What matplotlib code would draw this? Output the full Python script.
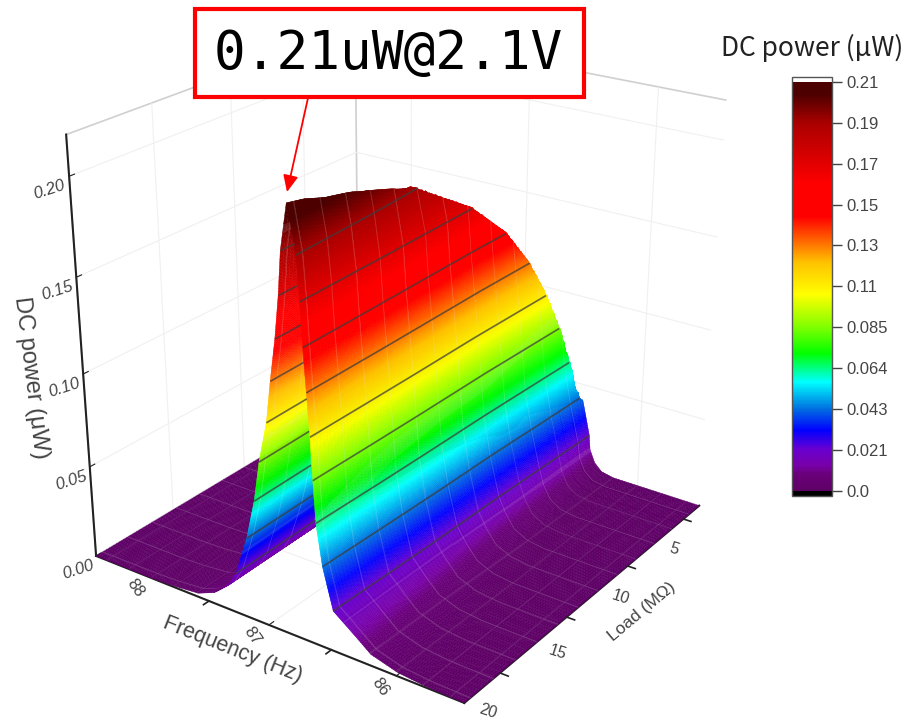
import numpy as np, matplotlib
matplotlib.use('Agg')
import matplotlib.pyplot as plt
from matplotlib.colors import LinearSegmentedColormap, Normalize
from matplotlib.cm import ScalarMappable
from mpl_toolkits.mplot3d import proj3d
import warnings; warnings.filterwarnings('ignore')

# Values: the frequency at which each power level sits, per load
LOAD=[1,1.16,1.5,2.09,2.92,4.04,5.6,8,11.5,15,20]
PEAK_POWER=[.041,.0426,.0639,.0852,.1065,.1278,.1491,.1704,.1917,.203,.215]
PEAK_FREQ=[86.48,86.49,86.552,86.59,86.627,86.665,86.702,86.728,86.784,86.778,86.77]
LEVELS=[.0005,.002,.006,.013,.0213,.0426,.0639,.0852,.1065,.1278,.1491,.1704,.1917]
FREQ_RISING=[
[86.2,86.30,86.36,86.403,86.414,86.48,86.48,86.48,86.48,86.48,86.48,86.48,86.48],
[86.198,86.298,86.359,86.403,86.414,86.49,86.49,86.49,86.49,86.49,86.49,86.49,86.49],
[86.192,86.294,86.357,86.402,86.415,86.491,86.552,86.552,86.552,86.552,86.552,86.552,86.552],
[86.182,86.287,86.354,86.401,86.417,86.493,86.554,86.59,86.59,86.59,86.59,86.59,86.59],
[86.168,86.278,86.349,86.399,86.421,86.497,86.557,86.592,86.627,86.627,86.627,86.627,86.627],
[86.15,86.265,86.343,86.397,86.425,86.501,86.561,86.595,86.629,86.665,86.665,86.665,86.665],
[86.12,86.244,86.333,86.393,86.432,86.509,86.567,86.6,86.632,86.667,86.702,86.702,86.702],
[86.076,86.213,86.318,86.387,86.443,86.52,86.576,86.607,86.637,86.669,86.702,86.728,86.728],
[86.0,86.157,86.285,86.369,86.449,86.526,86.58,86.607,86.633,86.663,86.693,86.716,86.784],
[85.904,86.087,86.245,86.348,86.46,86.537,86.587,86.61,86.632,86.658,86.684,86.704,86.746],
[85.77,85.99,86.193,86.322,86.48,86.558,86.603,86.62,86.635,86.655,86.675,86.69,86.71]]
FREQ_FALLING=[87.82,87.59,87.45,87.33,87.26,87.16,87.088,87.038,86.97,86.93,86.885,86.85,86.825]
FREQ_RANGE=(85.5,88.5);LOAD_RANGE=(1,20);POWER_TOP=.22

CB_TICKS=[0,.0213,.0426,.0639,.0852,.1065,.1278,.1491,.1704,.1917,.213]
CB_LABELS=['0.0','0.021','0.043','0.064','0.085','0.11','0.13','0.15','0.17','0.19','0.21']
CONTOUR_LEVELS=CB_TICKS[1:-1]
FREQ_TICKS=[86,87,88];FREQ_MINOR=[86.5,87.5]
LOAD_TICKS=[5,10,15,20];LOAD_MINOR=[2.5,7.5,12.5,17.5]
Z_TICKS=[0,.05,.10,.15,.20]
Z_LABELS=['0.00','0.05','0.10','0.15','0.20']
cstops=[(0,'#5e0066'),(.04,'#6a007a'),(.06,'#7800a8'),(.10,'#6a00d0'),(.147,'#0000ff'),(.20,'#0070e0'),(.265,'#00ffff'),(.335,'#00ff00'),(.40,'#80ff00'),(.48,'#ffff00'),(.56,'#ffc000'),(.67,'#ff0000'),(.75,'#ff0000'),(.90,'#aa0000'),(.97,'#4d0000'),(1,'#4d0000')]
cmap=LinearSegmentedColormap.from_list('dc',cstops,N=512)
cmap.set_under('black');cmap.set_over('white')
norm=Normalize(0,.213)

plt.rcParams['font.family']=['Liberation Sans','DejaVu Sans']
fig=plt.figure(figsize=(9.21,7.2),dpi=100,facecolor='white')
ax=fig.add_subplot(projection='3d',computed_zorder=False)
ax.set_xlim(*FREQ_RANGE,view_margin=0);ax.set_ylim(*LOAD_RANGE,view_margin=0);ax.set_zlim(0,POWER_TOP,view_margin=0)
ax.view_init(24.0344,125.3603);ax.set_proj_type('persp',focal_length=.4957);ax.set_box_aspect((1.0021,.9985,1))
s=759.4918;cx=394.2233;cy=376.8205
ax.set_position([(cx-s/2)/921,(cy-s/2)/720,s/921,s/720])
ax.patch.set_alpha(0)

# The read table is only subdivided here so that the colour bands render smoothly
lev=np.array(LEVELS);fr=np.array(FREQ_RISING);fall=np.array(FREQ_FALLING);pk=np.array(PEAK_POWER);pf=np.array(PEAK_FREQ);lp=np.array(LOAD)
def rising(L,k): return np.interp(L,lp,fr[:,k])
def falling(L,k): return fall[k]+np.interp(L,lp,pf)-pf[-1]
def row(L,f):
    p=np.interp(L,lp,pk);pfq=np.interp(L,lp,pf);m=lev<p-1e-4
    k=np.maximum.accumulate(np.array([rising(L,j) for j in range(len(lev))])[m])
    g=fall[m]+pfq-pf[-1]
    top=max(pfq,k[-1]+1e-3)
    g=np.maximum(g,top+1e-3)
    X=np.r_[FREQ_RANGE[0],k,top,g[::-1],88.0,FREQ_RANGE[1]]
    Y=np.r_[0,lev[m],p,lev[m][::-1],0,0]
    return np.interp(f,X,Y)
dense=np.linspace(*FREQ_RANGE,6001)
w_=sum(np.abs(np.diff(row(l,dense))) for l in (1.5,3,6,10,20))
arc=np.r_[0,np.cumsum(w_/.004+np.diff(dense)/.02)]
ff=np.interp(np.linspace(0,arc[-1],int(arc[-1])),arc,dense)
MESH_F=np.arange(85.6,88.5,.2);MESH_L=np.arange(2,20,1.6)
df=.005;dl=.035
ffx=np.unique(np.r_[ff,MESH_F-df,MESH_F+df])
llx=np.unique(np.r_[np.linspace(1,20,90),lp,MESH_L-dl,MESH_L+dl])
Z=np.array([row(l,ffx) for l in llx])
F,L=np.meshgrid(ffx,llx)
fm=.5*(F[:-1,:-1]+F[1:,1:]);lm=.5*(L[:-1,:-1]+L[1:,1:])
zc=.25*(Z[:-1,:-1]+Z[1:,:-1]+Z[:-1,1:]+Z[1:,1:])
fc=np.zeros(Z.shape+(4,));C=cmap(np.clip(norm(zc),0,1))
isf=np.any(np.abs(fm[...,None]-MESH_F)<df*1.01,axis=-1);isl=np.any(np.abs(lm[...,None]-MESH_L)<dl*1.01,axis=-1)
w=np.array([.9,.9,.9])
C[...,:3][isf]=C[...,:3][isf]*.9+.1*w
C[...,:3][isl]=C[...,:3][isl]*.82+.18*w
fc[:-1,:-1]=C
ax.plot_surface(F,L,Z,facecolors=fc,rstride=1,cstride=1,shade=False,linewidth=.3,antialiased=True,zorder=3)

# Contour lines at the colour-bar ticks
fig.canvas.draw()
M=ax.get_proj()
def pix(f,l,z):
    x,y,_=proj3d.proj_transform(np.asarray(f,float),np.asarray(l,float),np.asarray(z,float),M)
    return ax.transData.transform(np.c_[x,y])
lf=np.linspace(1,20,200)
rk=np.array([rising(20,k) for k in range(len(lev))])
front=pix(rk,np.full(len(lev),20.),lev)
order=np.argsort(front[:,1])
cc=dict(color='#3c3c3c',alpha=.72,lw=1.25,zorder=5,solid_capstyle='butt')
for lv in CONTOUR_LEVELS:
    k=int(np.argmin(np.abs(lev-lv)))
    keep=np.interp(lf,lp,pk)>=lv-1e-4
    ax.plot3D(np.interp(lf,lp,fr[:,k])[keep],lf[keep],np.full(keep.sum(),lv),**cc)
    fl=np.array([falling(l,k) for l in lf])
    q=pix(fl,lf,np.full(len(lf),lv))
    vis=keep&(q[:,0]<np.interp(q[:,1],front[order,1],front[order,0]))
    ax.plot3D(fl[vis],lf[vis],np.full(vis.sum(),lv),**cc)

grey='#a0a0a0';dark='#222222'
ax.grid(True)
for a in (ax.xaxis,ax.yaxis,ax.zaxis):
    a._axinfo['grid'].update(color='#f0f0f0',linewidth=.8)
    a._axinfo['tick'].update(inward_factor=0,outward_factor=.2)
    a._axinfo['axisline']['color']=dark
    a._axinfo['axisline']['linewidth']=1.5
    a.pane.set_facecolor('white');a.pane.set_edgecolor(grey);a.pane.set_linewidth(1.2)
    a.line.set_color(dark);a.line.set_linewidth(1.5)
ax.zaxis.pane.set_edgecolor('none')
ax.zaxis.set_ticks_position('upper');ax.zaxis.set_label_position('upper')
ax.set_xticks(FREQ_TICKS);ax.set_yticks(LOAD_TICKS);ax.set_zticks(Z_TICKS,Z_LABELS)
txt='#444444'
ax.tick_params(axis='x',labelsize=12,labelrotation=-55,pad=-3,colors=dark,labelcolor=txt,width=1.3)
ax.tick_params(axis='y',labelsize=11.5,labelrotation=-18,pad=1,colors=dark,labelcolor=txt,width=1.3)
ax.tick_params(axis='z',labelsize=12,labelrotation=18,pad=0,colors=dark,labelcolor=txt,width=1.3)
for t in ax.get_zticklabels(): t.set_style('italic')
for t in ax.xaxis.get_major_ticks():
    t.label1.set_ha('right');t.label1.set_va('center')
for t in ax.yaxis.get_major_ticks():
    t.label1.set_ha('left');t.label1.set_va('bottom')
ax.set_xlabel('Frequency (Hz)',fontsize=15.5,color=txt,labelpad=-6)
ax.set_ylabel('Load (MΩ)',fontsize=12.5,color=txt,labelpad=0)
ax.zaxis.set_rotate_label(False)
ax.set_zlabel('DC power (μW)',fontsize=17,color=txt,labelpad=10,rotation=-83)
inv=ax.transData.inverted()
def nudge(label,dx,dy):
    # moves an axis label by screen pixels from where the 3D axis puts it
    d=inv.transform((dx,-dy))-inv.transform((0,0))
    orig=label.set_position
    label.set_position=lambda xy: orig((xy[0]+d[0],xy[1]+d[1]))
nudge(ax.xaxis.label,-21,-7)
nudge(ax.yaxis.label,22,-24)
nudge(ax.zaxis.label,21,18)
for f in FREQ_MINOR: ax.plot3D([f,f],[20,20.35],[0,0],color=dark,lw=1.2,zorder=4,clip_on=False)
for l in LOAD_MINOR: ax.plot3D([85.5,85.44],[l,l],[0,0],color=dark,lw=1.2,zorder=4,clip_on=False)

cax=fig.add_axes([792/921,1-495.5/720,40/921,418.5/720])
cb=fig.colorbar(ScalarMappable(norm,cmap),cax=cax,ticks=CB_TICKS,extend='both',extendrect=True,extendfrac=.012,drawedges=False)
cb.ax.set_yticklabels(CB_LABELS,fontsize=12,color='#444444')
cb.ax.tick_params(length=7,width=1,color='#444444',pad=3)
cb.outline.set_edgecolor('#555555');cb.outline.set_linewidth(1)
fig.text(812/921,1-48/720,'DC power (μW)',fontsize=19,ha='center',va='center',color='#222222',family=['Noto Sans CJK JP','DejaVu Sans'])

ov=fig.add_axes([0,0,1,1],zorder=10);ov.set_xlim(0,921);ov.set_ylim(720,0);ov.axis('off');ov.patch.set_alpha(0)
ov.add_patch(plt.Rectangle((195,9),389,88,fc='white',ec='#ff0000',lw=3))
ov.text(388,54,'0.21uW@2.1V',fontsize=38,ha='center',va='center',color='black',family=['DejaVu Sans Mono'])
ov.annotate('',xy=(287,192),xytext=(308,98),arrowprops=dict(arrowstyle='-|>,head_width=.45,head_length=1.0',color='#ff0000',lw=1.3,shrinkA=0,shrinkB=0))
fig.savefig('out.png',dpi=100)
